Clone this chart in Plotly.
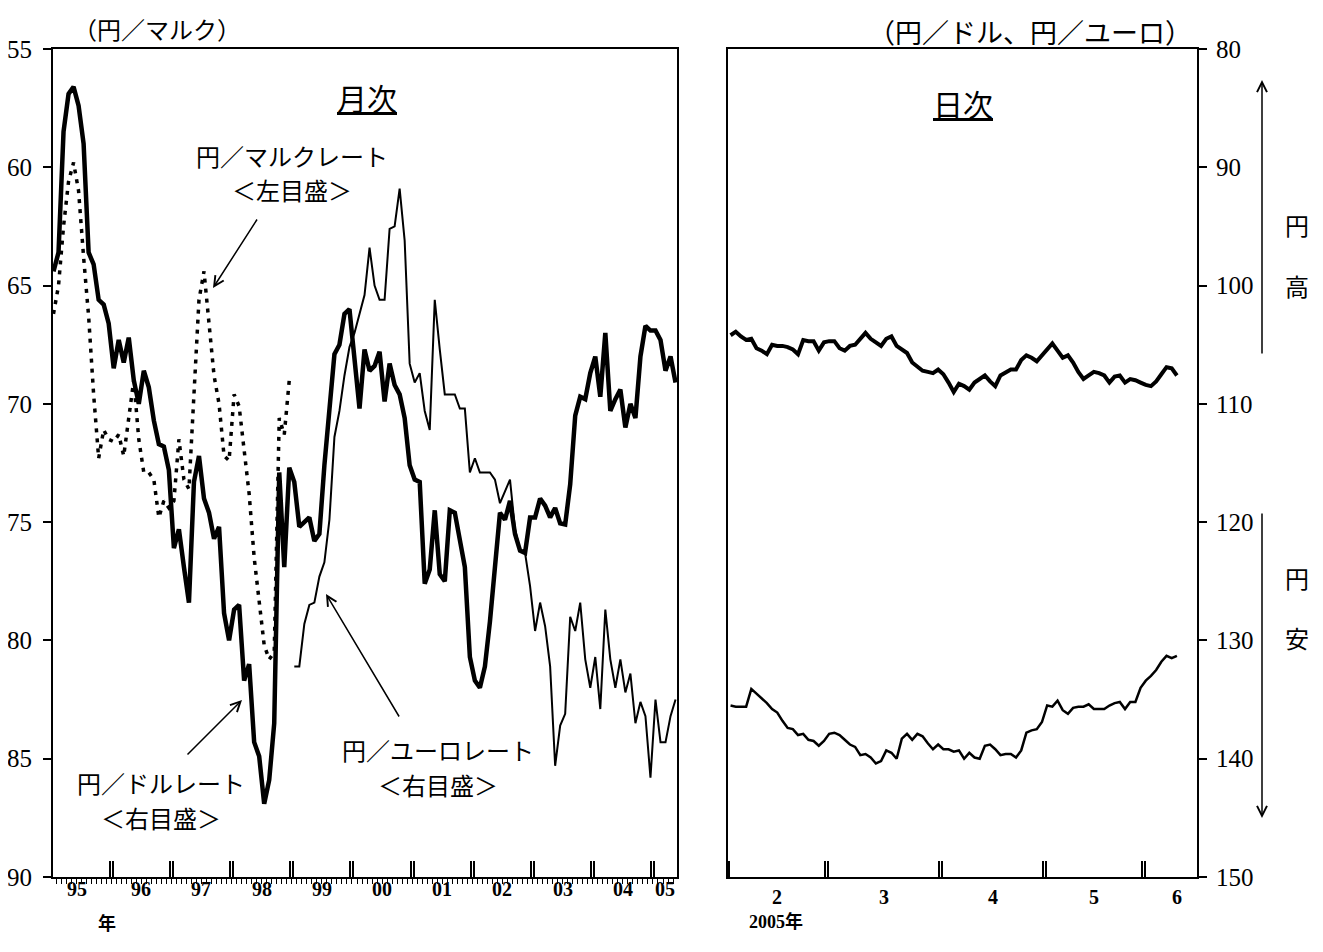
import plotly.graph_objects as go

# ---- monthly data (month-end), Jan 1995 .. May 2005 ----
# yen per dollar (right scale), 125 months
yen_dollar_m = [
    98.8, 97.2, 87.0, 83.8, 83.2, 84.8, 88.0, 97.2, 98.2, 101.2, 101.6, 103.2,
    107.0, 104.6, 106.5, 104.4, 108.0, 110.0, 107.2, 108.6, 111.4, 113.4, 113.6, 115.6,
    122.2, 120.6, 123.8, 126.8, 116.6, 114.4, 118.0, 119.2, 121.4, 120.4, 127.7, 130.0,
    127.4, 127.0, 133.4, 132.0, 138.6, 139.8, 143.8, 141.8, 137.0, 115.8, 123.8, 115.4,
    116.6, 120.4, 120.0, 119.6, 121.6, 121.0, 115.2, 110.0, 105.8, 105.0, 102.4, 102.0,
    106.0, 110.4, 105.4, 107.2, 106.8, 105.6, 109.8, 106.6, 108.4, 109.2, 111.2, 115.2,
    116.4, 116.6, 125.2, 124.0, 119.0, 124.4, 125.0, 119.0, 119.2, 121.6, 123.8, 131.4,
    133.4, 134.0, 132.2, 128.4, 124.2, 119.2, 119.8, 118.2, 121.0, 122.4, 122.6, 119.6,
    119.6, 118.0, 118.6, 119.6, 118.8, 120.1, 120.2, 116.8, 111.0, 109.4, 109.6, 107.4,
    106.0, 109.4, 104.0, 110.6, 109.6, 108.8, 112.0, 110.0, 111.2, 106.0, 103.4, 103.8,
    103.8, 104.6, 107.2, 106.0, 108.2,
]
# yen per euro (right scale), Jan 1999 .. May 2005
yen_euro_m = [
    132.2, 132.2, 128.6, 127.0, 126.8, 124.6, 123.4, 119.8, 112.8, 110.6, 107.6, 105.2,
    104.0, 102.4, 100.8, 96.8, 100.0, 101.2, 101.2, 95.2, 95.0, 91.8, 96.2, 106.6,
    108.2, 107.4, 110.6, 112.2, 101.2, 105.4, 109.2, 109.2, 109.2, 110.4, 110.4, 115.8,
    114.6, 115.8, 115.8, 115.8, 116.4, 118.4, 117.4, 116.4, 120.6, 122.4, 122.6, 125.4,
    129.2, 126.8, 128.8, 132.2, 140.6, 137.2, 136.2, 128.0, 129.2, 126.8, 131.6, 134.0,
    131.4, 135.8, 127.4, 131.6, 134.0, 131.6, 134.4, 132.8, 137.0, 135.2, 136.4, 141.6,
    135.0, 138.6, 138.6, 136.4, 135.0,
]
# yen per mark (left scale), Jan 1995 .. Dec 1998
yen_mark_m = [
    66.2, 65.0, 62.5, 60.6, 59.8, 61.0, 63.8, 66.3, 69.6, 72.3, 71.1, 71.5,
    71.6, 71.3, 72.2, 70.6, 69.0, 71.5, 72.9, 72.9, 73.2, 74.8, 74.1, 74.4,
    74.1, 71.5, 73.2, 73.6, 69.5, 65.6, 64.4, 66.6, 68.8, 70.0, 72.2, 72.4,
    69.6, 70.1, 72.0, 73.8, 76.5, 78.3, 80.2, 80.8, 80.5, 70.6, 71.3, 69.0,
]
year_labels = ["95", "96", "97", "98", "99", "00", "01", "02", "03", "04", "05"]

# ---- daily data, business days 1 Feb .. 9 Jun 2005 ----
yen_dollar_d = [
    104.2, 103.9, 104.3, 104.6, 104.5, 105.3, 105.5, 105.8, 105.0, 105.1,
    105.1, 105.2, 105.4, 105.8, 104.6, 104.7, 104.7, 105.5, 104.8, 104.7,
    104.7, 105.3, 105.5, 105.1, 105.0, 104.5, 104.0, 104.5, 104.8, 105.1,
    104.5, 104.3, 105.1, 105.4, 105.7, 106.5, 106.9, 107.2, 107.3, 107.4,
    107.1, 107.5, 108.2, 109.0, 108.3, 108.5, 108.8, 108.2, 107.9, 107.6,
    108.1, 108.5, 107.6, 107.3, 107.1, 107.1, 106.3, 105.9, 106.1, 106.4,
    105.9, 105.4, 104.9, 105.5, 106.1, 105.9, 106.5, 107.3, 107.9, 107.6,
    107.3, 107.4, 107.6, 108.2, 107.7, 107.6, 108.2, 107.9, 108.0, 108.2,
    108.4, 108.5, 108.1, 107.5, 106.9, 107.0, 107.6,
]
yen_euro_d = [
    135.5, 135.6, 135.6, 135.6, 134.1, 134.5, 134.9, 135.3, 135.8, 136.1,
    136.8, 137.4, 137.5, 138.0, 137.9, 138.4, 138.5, 138.9, 138.5, 137.9,
    137.8, 138.0, 138.4, 138.8, 139.0, 139.7, 139.6, 139.9, 140.4, 140.2,
    139.3, 139.5, 140.0, 138.3, 137.9, 138.4, 137.9, 138.1, 138.7, 139.2,
    138.8, 139.2, 139.2, 139.4, 139.3, 140.0, 139.5, 139.9, 140.0, 138.9,
    138.8, 139.2, 139.7, 139.6, 139.6, 139.9, 139.3, 137.8, 137.6, 137.5,
    136.9, 135.5, 135.6, 135.1, 135.9, 136.2, 135.7, 135.6, 135.6, 135.4,
    135.8, 135.8, 135.8, 135.5, 135.3, 135.2, 135.8, 135.2, 135.2, 134.0,
    133.4, 133.0, 132.5, 131.8, 131.3, 131.5, 131.3,
]
month_labels = ["2", "3", "4", "5", "6"]
days_in_month = [19, 22, 20, 19]  # business days Feb..May

# x positions (month index / business-day index)
t_all = list(range(len(yen_dollar_m)))
t_euro = t_all[48:]
t_mark = t_all[:48]
days = list(range(len(yen_dollar_d)))

SERIF = "Liberation Serif, Noto Sans CJK JP"
JP = "Noto Sans CJK JP"

# page pixel -> paper coords (plot area on the page: x 53..1197, y 49..877)
def px(x):
    return (x - 53) / 1144

def py(y):
    return (877 - y) / 828

fig = go.Figure()
fig.add_trace(go.Scatter(x=t_mark, y=yen_mark_m, xaxis="x", yaxis="y", mode="lines",
                         line=dict(color="black", width=3.5, dash="4px,6px")))
fig.add_trace(go.Scatter(x=t_euro, y=yen_euro_m, xaxis="x", yaxis="y2", mode="lines",
                         line=dict(color="black", width=2)))
fig.add_trace(go.Scatter(x=t_all, y=yen_dollar_m, xaxis="x", yaxis="y2", mode="lines",
                         line=dict(color="black", width=4.5)))
fig.add_trace(go.Scatter(x=days, y=yen_euro_d, xaxis="x2", yaxis="y3", mode="lines",
                         line=dict(color="black", width=2.5)))
fig.add_trace(go.Scatter(x=days, y=yen_dollar_d, xaxis="x2", yaxis="y3", mode="lines",
                         line=dict(color="black", width=4)))

# year boundary "||" ticks and month boundary ticks
year_bounds = [11.5 + 12 * k for k in range(10)]
year_ticks = [b + s for b in year_bounds for s in (-0.3, 0.3)]
n_m = len(t_all)
edges = [-0.1] + year_bounds + [n_m - 0.7]
year_pos = [(edges[i] + edges[i + 1]) / 2 for i in range(len(year_labels))]
year_pos[0] = 4.6

mb = [-0.5]
for n in days_in_month:
    mb.append(mb[-1] + n)
month_ticks = [-0.3] + [b + s for b in mb[1:] for s in (-0.3, 0.3)]
d_end = 89.87
seg = mb + [d_end]
month_pos = [(seg[i] + seg[i + 1]) / 2 for i in range(len(month_labels))]
month_pos[-1] = 86

axis_common = dict(showline=True, linecolor="black", linewidth=2, mirror=True,
                   showgrid=False, zeroline=False, tickcolor="black", fixedrange=True,
                   automargin=False)

# page body keeps an 8px margin, so the figure is 8px smaller and shifted
fig.update_layout(
    width=1315, height=944, autosize=False,
    margin=dict(l=45, r=126, t=41, b=75),
    paper_bgcolor="white", plot_bgcolor="white",
    showlegend=False,
    font=dict(family=SERIF, color="black"),
    xaxis=dict(domain=[0, 0.5455], range=[-0.1, n_m - 0.7], anchor="y",
               ticks="inside", ticklen=16, tickwidth=1.5, tickvals=year_ticks,
               showticklabels=False,
               minor=dict(ticks="outside", ticklen=5, tickwidth=1, tickcolor="black",
                          tickvals=[k + 0.5 for k in range(n_m - 1)]),
               **axis_common),
    yaxis=dict(domain=[0, 1], range=[90, 55], anchor="x",
               tickvals=list(range(55, 91, 5)), ticks="outside", ticklen=8, tickwidth=1.5,
               tickfont=dict(family="Liberation Serif", size=25), ticklabelstandoff=6,
               **axis_common),
    yaxis2=dict(overlaying="y", anchor="x", range=[150, 80], visible=False, fixedrange=True),
    xaxis2=dict(domain=[0.590, 1], range=[-0.5, d_end], anchor="y3",
                ticks="inside", ticklen=16, tickwidth=1.5, tickvals=month_ticks,
                showticklabels=False, **axis_common),
    yaxis3=dict(domain=[0, 1], range=[150, 80], anchor="x2", side="right",
                tickvals=list(range(80, 151, 10)), ticks="outside", ticklen=8, tickwidth=1.5,
                tickfont=dict(family="Liberation Serif", size=25), ticklabelstandoff=4,
                **axis_common),
)

ann = []
for lab, pos in zip(year_labels, year_pos):
    ann.append(dict(x=pos, y=py(902), xref="x", yref="paper", text="<b>" + lab + "</b>",
                    showarrow=False, font=dict(family="Liberation Serif", size=20)))
for lab, pos in zip(month_labels, month_pos):
    ann.append(dict(x=pos, y=py(910), xref="x2", yref="paper", text="<b>" + lab + "</b>",
                    showarrow=False, font=dict(family="Liberation Serif", size=20)))
ann.append(dict(x=px(96), y=py(937), xref="paper", yref="paper", text="<b>年</b>",
                showarrow=False, font=dict(family=JP, size=18)))
ann.append(dict(x=px(776), y=py(934), xref="paper", yref="paper",
                text="<b>2005年</b>", showarrow=False,
                font=dict(family=SERIF, size=18)))


def label(x, y, text, size=24):
    ann.append(dict(x=px(x), y=py(y), xref="paper", yref="paper", text=text,
                    showarrow=False, xanchor="center", yanchor="middle",
                    font=dict(family=JP, size=size)))


def arrow(x0, y0, x1, y1, head=5):
    ann.append(dict(x=px(x1), y=py(y1), xref="paper", yref="paper", text="",
                    showarrow=True, arrowhead=head, arrowsize=1.3, arrowwidth=1.5,
                    arrowcolor="black", ax=x0 - x1, ay=y0 - y1))


label(157, 28, "（円／マルク）", 24)
label(367, 97, "<u>月次</u>", 30)
label(292, 155, "円／マルクレート")
label(292, 190, "＜左目盛＞")
arrow(258, 218, 213, 288)
label(161, 782, "円／ドルレート")
label(161, 817, "＜右目盛＞")
arrow(186, 756, 242, 700)
label(438, 749, "円／ユーロレート")
label(438, 784, "＜右目盛＞")
arrow(400, 718, 326, 594)

label(1030, 32, "（円／ドル、円／ユーロ）", 27)
label(963, 103, "<u>日次</u>", 30)
arrow(1262, 355, 1262, 80)
arrow(1262, 512, 1262, 818)
label(1297, 225, "円")
label(1297, 285, "高")
label(1297, 577, "円")
label(1297, 637, "安")

fig.update_layout(annotations=ann)

fig.write_html("out.html")
